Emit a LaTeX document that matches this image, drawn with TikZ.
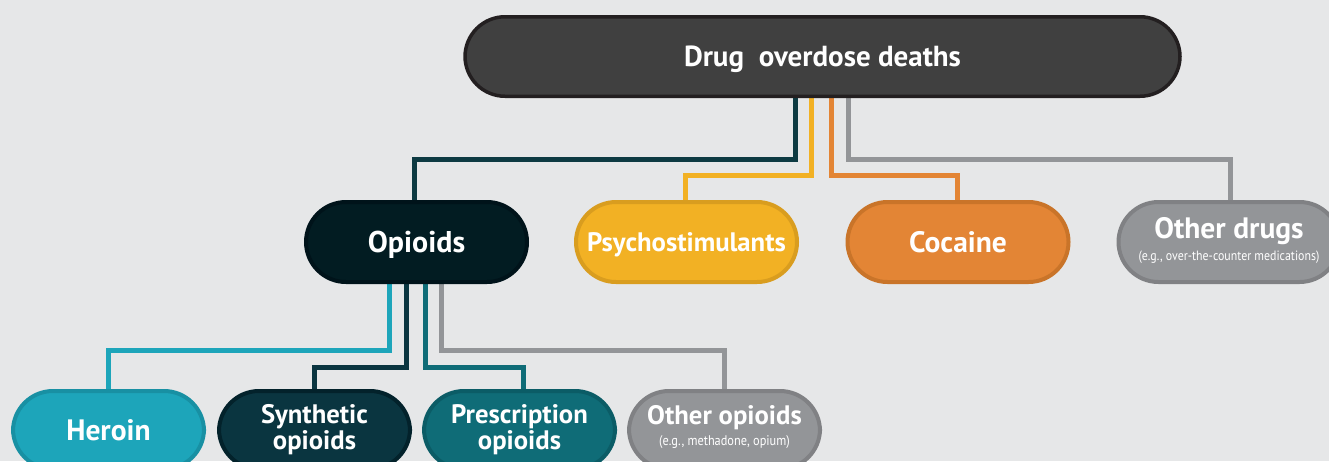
\documentclass[tikz,border=0pt]{standalone}
\usepackage{fontspec}
\setmainfont{PT Sans}
\newfontfamily\condfont[FakeStretch=0.88]{PT Sans}
\usetikzlibrary{positioning}
\pgfdeclarelayer{bg}
\pgfdeclarelayer{lines}
\pgfsetlayers{bg,lines,main}
\definecolor{bgc}{HTML}{E6E7E8}
\definecolor{topfill}{HTML}{404040}
\definecolor{topline}{HTML}{231F20}
\definecolor{opfill}{HTML}{021C22}
\definecolor{opline}{HTML}{00131A}
\definecolor{yfill}{HTML}{F2B124}
\definecolor{yline}{HTML}{D99D1F}
\definecolor{ofill}{HTML}{E38535}
\definecolor{oline}{HTML}{C97429}
\definecolor{gfill}{HTML}{939598}
\definecolor{gline}{HTML}{808184}
\definecolor{hfill}{HTML}{1DA5BA}
\definecolor{hline}{HTML}{1890A3}
\definecolor{sfill}{HTML}{0A3540}
\definecolor{sline}{HTML}{03222B}
\definecolor{pfill}{HTML}{0F6C77}
\definecolor{pline}{HTML}{0B5C66}
\definecolor{cdark}{HTML}{0D3A42}
\tikzset{
  x=1pt, y=-1pt,
  pill/.style={rectangle, rounded corners=40pt, line width=4pt, text=white,
    font=\bfseries\fontsize{29}{29}\selectfont, align=center, inner sep=0pt},
  lvltwo/.style={pill, minimum width=221pt, minimum height=80pt},
  lvlthree/.style={pill, minimum width=191pt, minimum height=78pt,
    font=\bfseries\fontsize{26.7}{27}\selectfont},
  capcenter/.style={text height=#1, text depth=0pt},
  conn/.style={line width=5pt},
  small/.style={font=\condfont\fontsize{13.5}{14}\selectfont}
}
\begin{document}
\begin{tikzpicture}
\useasboundingbox (0,0) rectangle (1329,461);
\clip (0,0) rectangle (1329,461);
\begin{pgfonlayer}{bg}
\fill[bgc] (0,0) rectangle (1329,461);
\end{pgfonlayer}

% top
\node[pill, fill=topfill, draw=topline, line width=3.5pt, minimum width=715pt, minimum height=79.5pt,
  font=\bfseries\fontsize{29}{29}\selectfont, capcenter=20.5pt] (top) at (822.5,56.5) {Drug\ \ overdose deaths};

% level 2
\node[lvltwo, fill=opfill, draw=opline, font=\bfseries\fontsize{30}{30}\selectfont, capcenter=21pt] (opioids) at (416.5,242) {Opioids};
\node[lvltwo, fill=yfill, draw=yline, font=\bfseries\fontsize{26.7}{27}\selectfont, capcenter=18.7pt] (psycho) at (686.5,242) {Psychostimulants};
\node[lvltwo, fill=ofill, draw=oline, font=\bfseries\fontsize{29.5}{30}\selectfont, capcenter=20.7pt] (cocaine) at (958,242) {Cocaine};
\node[lvltwo, fill=gfill, draw=gline] (otherdrugs) at (1229,242) {};
\node[text=white, font=\bfseries\fontsize{29.5}{30}\selectfont, inner sep=0pt] (odt) at (1229,231) {Other drugs};
\node[small, text=white, inner sep=0pt] (ods) at (1229,257) {(e.g., over-the-counter medications)};

% level 3
\node[lvlthree, fill=hfill, draw=hline, font=\bfseries\fontsize{29.5}{30}\selectfont, capcenter=20.7pt] (heroin) at (108.5,430) {Heroin};
\node[lvlthree, fill=sfill, draw=sline] (synth) at (314.5,430) {Synthetic\\[-1pt]opioids};
\node[lvlthree, fill=pfill, draw=pline] (presc) at (519.5,430) {Prescription\\[-1pt]opioids};
\node[lvlthree, fill=gfill, draw=gline] (otherop) at (724.5,430) {};
\node[text=white, font=\bfseries\fontsize{26.7}{27}\selectfont, inner sep=0pt] (oot) at (724.5,418) {Other opioids};
\node[text=white, inner sep=0pt, font=\condfont\fontsize{14}{14}\selectfont] (oos) at (724.5,442) {(e.g., methadone, opium)};

% connectors
\begin{pgfonlayer}{lines}
\draw[conn, cdark] ([xshift=-27.5pt]top.south) -- ++(0,61) -| ([xshift=-2.5pt]opioids.north);
\draw[conn, yfill] ([xshift=-11pt]top.south) -- ++(0,77) -| ([xshift=-1pt]psycho.north);
\draw[conn, ofill] ([xshift=9pt]top.south) -- ++(0,77) -| ([xshift=-0.5pt]cocaine.north);
\draw[conn, gfill] ([xshift=26pt]top.south) -- ++(0,61) -| ([xshift=1pt]otherdrugs.north);

\draw[conn, hfill] ([xshift=-27pt]opioids.south) -- ++(0,66) -| (heroin.north);
\draw[conn, sfill] ([xshift=-10.5pt]opioids.south) -- ++(0,83) -| (synth.north);
\draw[conn, pfill] ([xshift=8.5pt]opioids.south) -- ++(0,83) -| ([xshift=3.5pt]presc.north);
\draw[conn, gfill] ([xshift=25pt]opioids.south) -- ++(0,66) -| (otherop.north);
\end{pgfonlayer}
\end{tikzpicture}
\end{document}
